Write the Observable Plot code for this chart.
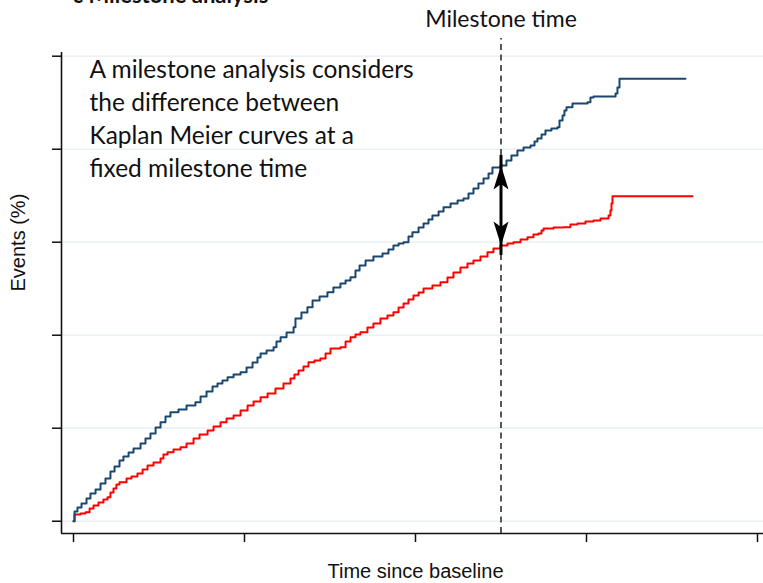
<!DOCTYPE html>
<html>
<head>
<meta charset="utf-8">
<script src="https://cdn.jsdelivr.net/npm/d3@7"></script>
<script src="https://cdn.jsdelivr.net/npm/@observablehq/plot@0.6"></script>
<style>
html, body { margin: 0; padding: 0; background: #fff; overflow: hidden; }
</style>
</head>
<body>
<div id="chart"></div>
<script>
// ---- text ----
const titleText = "c Milestone analysis";
const xLabel = "Time since baseline";
const yLabel = "Events (%)";
const milestoneLabel = "Milestone time";
const noteLines = [
  "A milestone analysis considers",
  "the difference between",
  "Kaplan Meier curves at a",
  "fixed milestone time"
];

// ---- ticks (unlabelled in the original) ----
const xTicks = [0, 1, 2, 3, 4];
const yTicks = [0, 10, 20, 30, 40, 50];
const milestone = 2.5;

// ---- Kaplan-Meier cumulative event curves ----
const blueTime = [0, 0.006, 0.023, 0.047, 0.076, 0.099, 0.129, 0.158, 0.187, 0.216,
  0.240, 0.269, 0.292, 0.322, 0.351, 0.392, 0.421, 0.450, 0.480, 0.509,
  0.538, 0.567, 0.614, 0.661, 0.713, 0.743, 0.778, 0.813, 0.842, 0.871,
  0.901, 0.936, 0.977, 1.012, 1.047, 1.076, 1.094, 1.129, 1.170, 1.187,
  1.211, 1.246, 1.287, 1.298, 1.333, 1.368, 1.398, 1.439, 1.485, 1.520,
  1.561, 1.591, 1.620, 1.649, 1.673, 1.708, 1.754, 1.807, 1.842, 1.871,
  1.901, 1.930, 1.959, 1.982, 2.018, 2.047, 2.076, 2.099, 2.135, 2.164,
  2.205, 2.246, 2.281, 2.310, 2.339, 2.368, 2.398, 2.427, 2.450, 2.497,
  2.532, 2.561, 2.596, 2.632, 2.673, 2.696, 2.713, 2.737, 2.760, 2.795,
  2.830, 2.842, 2.860, 2.871, 2.883, 2.918, 3.006, 3.023, 3.041, 3.170,
  3.181, 3.193, 3.579];
const blueEvents = [0, 1.04, 1.47, 1.90, 2.44, 2.98, 3.41, 4.05, 4.59, 5.34,
  5.88, 6.53, 6.96, 7.39, 7.82, 8.35, 8.89, 9.43, 10.08, 10.65,
  11.26, 11.72, 12.01, 12.44, 12.80, 13.41, 13.95, 14.48, 14.81, 15.13,
  15.48, 15.77, 16.02, 16.53, 17.06, 17.60, 18.03, 18.35, 18.71, 19.32,
  19.78, 20.29, 20.86, 21.80, 22.44, 23.01, 23.73, 24.16, 24.62, 25.13,
  25.56, 25.88, 26.24, 26.96, 27.49, 28.03, 28.46, 28.78, 29.22, 29.65,
  29.86, 30.00, 30.61, 31.08, 31.58, 32.01, 32.44, 32.87, 33.30, 33.76,
  34.16, 34.48, 34.70, 35.24, 35.77, 36.31, 36.85, 37.39, 38.03, 38.25,
  38.78, 39.32, 39.86, 40.18, 40.40, 40.83, 41.15, 41.58, 42.01, 42.23,
  42.37, 43.09, 43.62, 44.16, 44.52, 44.91, 45.05, 45.56, 45.67, 45.99,
  46.63, 47.57, 47.57];

const redTime = [0, 0.006, 0.041, 0.070, 0.094, 0.117, 0.146, 0.175, 0.199, 0.216,
  0.234, 0.251, 0.269, 0.310, 0.339, 0.374, 0.404, 0.433, 0.468, 0.509,
  0.526, 0.550, 0.585, 0.626, 0.661, 0.702, 0.737, 0.784, 0.819, 0.860,
  0.895, 0.936, 0.977, 1.018, 1.053, 1.094, 1.135, 1.181, 1.228, 1.269,
  1.292, 1.316, 1.345, 1.374, 1.409, 1.444, 1.474, 1.503, 1.561, 1.591,
  1.620, 1.649, 1.678, 1.719, 1.754, 1.795, 1.836, 1.871, 1.901, 1.930,
  1.959, 1.988, 2.018, 2.047, 2.099, 2.146, 2.187, 2.222, 2.263, 2.304,
  2.339, 2.380, 2.421, 2.456, 2.497, 2.538, 2.573, 2.614, 2.655, 2.690,
  2.719, 2.737, 2.749, 2.807, 2.865, 2.906, 2.947, 2.994, 3.041, 3.082,
  3.129, 3.140, 3.146, 3.152, 3.620];
const redEvents = [0, 0.72, 0.83, 0.97, 1.37, 1.69, 2.01, 2.33, 2.58, 3.09,
  3.52, 3.95, 4.19, 4.59, 4.81, 5.13, 5.56, 5.99, 6.31, 6.74,
  7.17, 7.42, 7.71, 7.96, 8.35, 8.89, 9.32, 9.75, 10.18, 10.65,
  11.04, 11.37, 11.90, 12.44, 12.87, 13.33, 13.73, 14.27, 14.81, 15.34,
  15.77, 16.20, 16.63, 17.10, 17.28, 17.49, 18.03, 18.57, 18.71, 19.32,
  19.78, 20.08, 20.32, 20.83, 21.26, 21.80, 22.12, 22.47, 22.98, 23.41,
  23.84, 24.27, 24.59, 25.02, 25.34, 25.70, 26.20, 26.74, 27.28, 27.71,
  28.03, 28.46, 28.92, 29.32, 29.65, 29.86, 30.00, 30.29, 30.54, 30.83,
  30.94, 31.26, 31.47, 31.58, 31.61, 31.90, 32.01, 32.23, 32.33, 32.55,
  32.87, 33.41, 34.16, 34.95, 34.95];

// ---- scale extents (frame of the original plot region) ----
const xMin = -0.0702, xMax = 4.0351;
const yMin = -1.32, yMax = 55.99;
const yAxisTop = 50.4;   // top end of the y axis line
const dashTop = 51.9;    // top end of the milestone line
const yLabelAt = 24.7;   // vertical centre of the y axis title

// ---- build tables ----
const blueRows = blueTime.map((t, i) => ({t, v: blueEvents[i]}));
const redRows = redTime.map((t, i) => ({t, v: redEvents[i]}));
const valueAt = (rows, time) => {
  let v = rows[0].v;
  for (const r of rows) if (r.t <= time) v = r.v;
  return v;
};
const blueAtMilestone = valueAt(blueRows, milestone);
const redAtMilestone = valueAt(redRows, milestone);

// filled stealth arrow head, tip at the origin, body extending downward
const arrowHead = {
  draw(ctx) {
    ctx.moveTo(0, 0);
    ctx.lineTo(7.5, 24);
    ctx.lineTo(0, 18.5);
    ctx.lineTo(-7.5, 24);
    ctx.closePath();
  }
};

const navy = "#1a476f";
const red = "#ff0000";
const axisColor = "#111111";
const gridColor = "#e6eef1";

const chart = Plot.plot({
  width: 763,
  height: 583,
  marginLeft: 61,
  marginRight: 0,
  marginTop: 0,
  marginBottom: 50,
  style: {background: "#ffffff", color: axisColor, fontFamily: "Liberation Sans, Arial, sans-serif"},
  x: {domain: [xMin, xMax]},
  y: {domain: [yMin, yMax]},
  marks: [
    // light horizontal grid
    Plot.ruleY(yTicks, {stroke: gridColor, strokeWidth: 1.3}),
    // axis lines
    Plot.ruleX([xMin], {y1: yMin, y2: yAxisTop, stroke: axisColor, strokeWidth: 1.6}),
    Plot.ruleY([yMin], {x1: xMin, x2: xMax, stroke: axisColor, strokeWidth: 1.6}),
    // unlabelled ticks
    Plot.axisY(yTicks, {tickSize: 9, fill: "none", stroke: axisColor, strokeWidth: 1.5, label: null}),
    Plot.axisX(xTicks, {tickSize: 9, fill: "none", stroke: axisColor, strokeWidth: 1.5, label: null}),
    // milestone dashed line
    Plot.ruleX([milestone], {y1: yMin, y2: dashTop, stroke: "#222222", strokeWidth: 1.5, strokeDasharray: "6,4.5"}),
    // KM curves
    Plot.line(redRows, {x: "t", y: "v", curve: "step-after", stroke: red, strokeWidth: 2}),
    Plot.line(blueRows, {x: "t", y: "v", curve: "step-after", stroke: navy, strokeWidth: 2}),
    // double-headed arrow showing the difference at the milestone
    Plot.ruleX([milestone], {y1: redAtMilestone, y2: blueAtMilestone, stroke: "black", strokeWidth: 3, insetTop: 10, insetBottom: 10}),
    Plot.dot([
      {t: milestone, v: blueAtMilestone, rot: 0},
      {t: milestone, v: redAtMilestone, rot: 180}
    ], {x: "t", y: "v", rotate: "rot", symbol: arrowHead, r: 10, fill: "black", stroke: "none"}),
    // annotation text
    Plot.text([noteLines.join("\n")], {
      frameAnchor: "top-left", dx: 28, dy: 176.5, lineAnchor: "bottom", textAnchor: "start",
      fontSize: 24.5, lineHeight: 33 / 24.5, fontFamily: "Lato, sans-serif", fill: "#111111"
    }),
    Plot.text([milestoneLabel], {
      x: () => milestone, frameAnchor: "top", dy: 26, lineAnchor: "bottom",
      fontSize: 23, fontFamily: "Lato, sans-serif", fill: "#111111"
    }),
    // axis titles
    Plot.text([xLabel], {
      x: () => xTicks[2], frameAnchor: "bottom", dy: 44, lineAnchor: "bottom",
      fontSize: 20, fontFamily: "Liberation Sans, Arial, sans-serif", fill: "#111111"
    }),
    Plot.text([yLabel], {
      y: () => yLabelAt, frameAnchor: "left", dx: -36.5, rotate: -90, lineAnchor: "bottom",
      fontSize: 20, fontFamily: "Liberation Sans, Arial, sans-serif", fill: "#111111"
    }),
    // title (mostly cropped above the picture, as in the original)
    Plot.text([titleText], {
      frameAnchor: "top-left", dx: 11, dy: 2, lineAnchor: "bottom", textAnchor: "start",
      fontSize: 22, fontWeight: "bold", fontFamily: "Lato, sans-serif", fill: "#111111"
    })
  ]
});

document.getElementById("chart").appendChild(chart);
</script>
</body>
</html>
